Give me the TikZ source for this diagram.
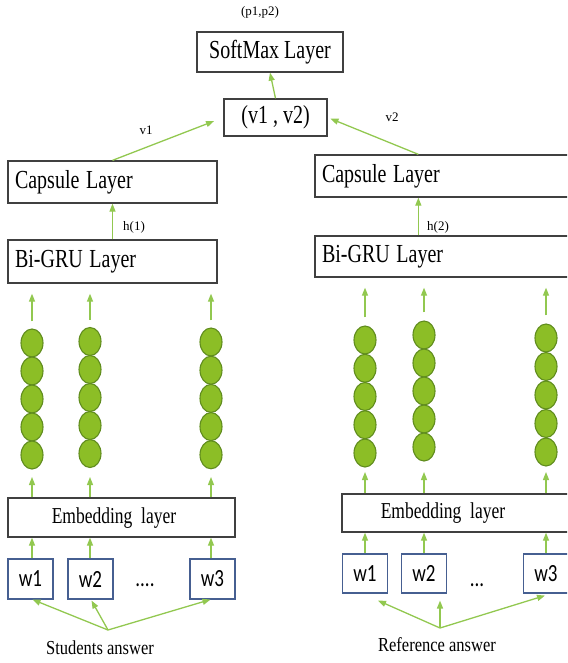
\documentclass[tikz,border=0pt]{standalone}
\usepackage{fontspec}
\usepackage{graphicx}
\setmainfont{Liberation Serif}
\newfontfamily\wfont{Carlito}
\usetikzlibrary{arrows.meta,shapes.geometric,calc}

\definecolor{arrowgreen}{RGB}{146,200,80}
\definecolor{cellfill}{RGB}{140,190,38}
\definecolor{celldraw}{RGB}{96,140,30}
\definecolor{boxgray}{RGB}{64,64,64}
\definecolor{wordblue}{RGB}{70,95,145}

% tall, narrow lettering used for the layer names and words
\newcommand{\tallt}[1]{\scalebox{1}[1.3]{#1}}

\tikzset{
  layerbox/.style={draw=boxgray, line width=1.3pt, rectangle, inner sep=0pt,
    font=\fontsize{20}{24}\selectfont},
  leftbox/.style={layerbox, inner xsep=7pt, align=left},
  wordbox/.style={draw=wordblue, line width=1.1pt, rectangle, inner sep=0pt,
    minimum width=45pt, minimum height=40pt, font=\wfont\fontsize{19}{22}\selectfont},
  cell/.style={ellipse, draw=celldraw, line width=1.1pt, fill=cellfill,
    minimum width=22pt, minimum height=28pt, inner sep=0pt},
  arr/.style={draw=arrowgreen, line width=1.3pt, -{Triangle[width=6pt,length=8pt]}},
  small/.style={font=\fontsize{13}{15}\selectfont, inner sep=0pt},
  caption/.style={font=\fontsize{16.5}{19}\selectfont, inner sep=0pt},
  embtext/.style={font=\fontsize{17.5}{20}\selectfont, inner sep=0pt},
}

\begin{document}
\begin{tikzpicture}[x=1pt, y=-1pt]
\useasboundingbox (0,0) rectangle (567,663);
\clip (0,0) rectangle (567,663);

% ---- top part -------------------------------------------------------
\node[small] (p) at (260,12) {(p1,p2)};
\node[layerbox, minimum width=146pt, minimum height=40pt] (sm) at (270,52) {\tallt{SoftMax Layer}};
\node[layerbox, minimum width=103pt, minimum height=37pt] (vb) at (275.5,117.5) {\tallt{(v1 , v2)}};

% ---- left branch ----------------------------------------------------
\node[leftbox, minimum width=209pt, minimum height=42pt, text width=195pt] (capL) at (112.5,182) {\tallt{Capsule Layer}};
\node[leftbox, minimum width=209pt, minimum height=43pt, text width=195pt] (bgL) at (112.5,261.5) {\tallt{Bi-GRU Layer}};
\node[layerbox, minimum width=227pt, minimum height=39pt] (embL) at (121.5,517.5) {};
\node[embtext] (embLt) at (114,518) {\tallt{Embedding\ \ layer}};

% ---- right branch ---------------------------------------------------
\node[leftbox, minimum width=260pt, minimum height=42pt, text width=246pt] (capR) at (445,176) {\tallt{Capsule Layer}};
\node[leftbox, minimum width=260pt, minimum height=41pt, text width=246pt] (bgR) at (445,256.5) {\tallt{Bi-GRU Layer}};
\node[layerbox, minimum width=240pt, minimum height=38pt] (embR) at (462,513) {};
\node[embtext] (embRt) at (443,513) {\tallt{Embedding\ \ layer}};

% ---- words ----------------------------------------------------------
\node[wordbox] (w1L) at (30.5,579) {\tallt{w1}};
\node[wordbox] (w2L) at (90.5,579) {\tallt{w2}};
\node[wordbox] (w3L) at (212.5,579) {\tallt{w3}};
\node[font=\wfont\fontsize{19}{22}\selectfont, anchor=base, inner sep=0pt] (dotsL) at (145,586) {\tallt{....}};

\node[wordbox, minimum height=39pt] (w1R) at (365,573.5) {\tallt{w1}};
\node[wordbox, minimum height=39pt] (w2R) at (424,573.5) {\tallt{w2}};
\node[wordbox, minimum height=39pt] (w3R) at (546,573.5) {\tallt{w3}};
\node[font=\wfont\fontsize{19}{22}\selectfont, anchor=base, inner sep=0pt] (dotsR) at (477,586) {\tallt{...}};

\node[caption] (stud) at (100,648) {\scalebox{1}[1.2]{Students answer}};
\node[caption] (refa) at (437,645) {\scalebox{1}[1.2]{Reference answer}};

% ---- vector cells ---------------------------------------------------
\foreach \col/\x/\y/\s in {L1/32/343/28, L2/90/341.5/28, L3/211/342/28.2,
                           R1/365/340/28.25, R2/424/335/28, R3/546/338/28.5}{
  \foreach \i [count=\k from 0] in {a,b,c,d,e}{
    \node[cell] (c\col\i) at (\x,\y+\k*\s) {};
  }
}

% ---- connectors -----------------------------------------------------
\draw[arr] (vb.north) -- (sm.south);
\draw[arr, shorten >=10pt] (capL.north) -- (vb.west);
\node[small] (v1l) at (146,130) {v1};
\coordinate (capRout) at ($(capR.north west)+(104,0)$);
\draw[arr, shorten >=3pt] (capRout) -- (vb.east);
\node[small] (v2l) at (392,117) {v2};

\draw[arr] (bgL.north) -- (capL.south);
\node[small] (h1l) at (134,227) {h(1)};
\coordinate (bgRin) at ($(bgR.north west)+(104,0)$);
\draw[arr] (bgRin) -- (bgRin |- capR.south);
\node[small] (h2l) at (438,227) {h(2)};

% cells up to Bi-GRU
\foreach \col/\bg in {L1/bgL, L2/bgL, L3/bgL}{
  \draw[arr, shorten <=7pt, shorten >=10pt] (c\col a.north) -- (c\col a.north |- \bg.south);
}
\foreach \col/\bg in {R1/bgR, R2/bgR, R3/bgR}{
  \draw[arr, shorten <=8pt, shorten >=10pt] (c\col a.north) -- (c\col a.north |- \bg.south);
}

% embedding up to cells
\coordinate (tipL) at (0,477);
\coordinate (tipR) at (0,472);
\foreach \col in {L1,L2,L3}{
  \draw[arr] (c\col e.south |- embL.north) -- (c\col e.south |- tipL);
}
\foreach \col in {R1,R2,R3}{
  \draw[arr] (c\col e.south |- embR.north) -- (c\col e.south |- tipR);
}

% words up to embedding
\foreach \w/\x in {w1L/32, w2L/90, w3L/211}{
  \draw[arr] (\w.north -| \x,0) -- (\x,0 |- embL.south);
}
\foreach \w/\x in {w1R/365, w2R/424, w3R/546}{
  \draw[arr] (\w.north -| \x,0) -- (\x,0 |- embR.south);
}

% answers to words
\coordinate (studsrc) at (108,630);
\draw[arr] (studsrc) -- ($(w1L.south)+(2,0)$);
\draw[arr] (studsrc) -- ($(w2L.south)+(1,1)$);
\draw[arr] (studsrc) -- ($(w3L.south)+(-2,0)$);
\coordinate (refsrc) at (440,628);
\draw[arr] (refsrc) -- ($(w1R.south)+(13,7)$);
\draw[arr] (refsrc) -- ($(w2R.south)+(16,7)$);
\draw[arr] (refsrc) -- ($(w3R.south)+(-1,2)$);
\end{tikzpicture}
\end{document}
